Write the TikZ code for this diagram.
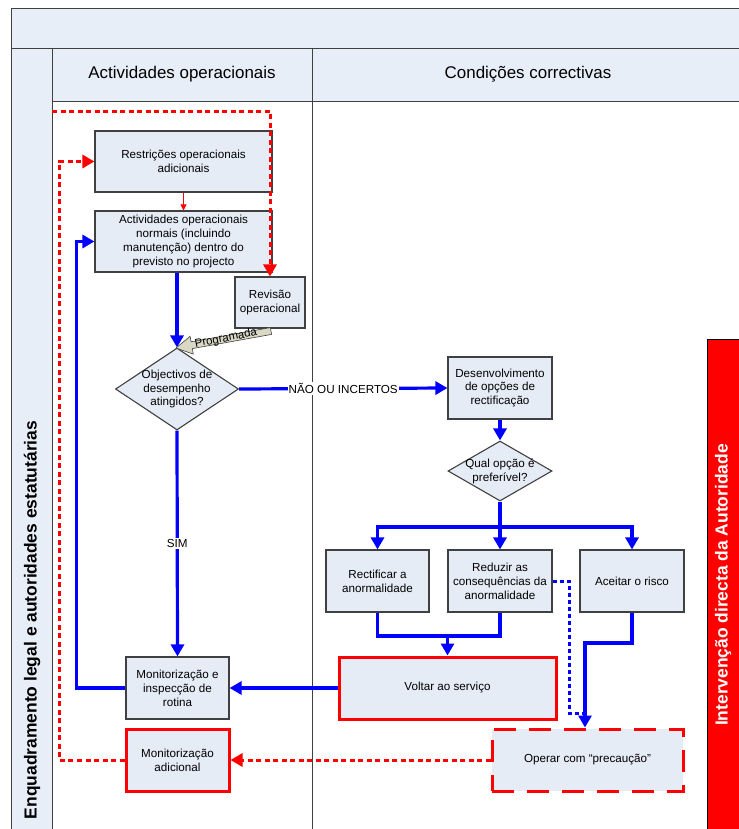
\documentclass[tikz,border=0pt]{standalone}
\usepackage{fontspec}
\setmainfont{Liberation Sans}
\usetikzlibrary{arrows.meta,shapes.geometric}
\definecolor{lanefill}{HTML}{E8EEF7}
\definecolor{boxfill}{HTML}{E6ECF6}
\definecolor{edgegray}{HTML}{404040}
\definecolor{calloutfill}{HTML}{D8D8C4}
\newcommand{\boxtextfont}{\fontsize{11.7}{14}\selectfont}
\newcommand{\headtextfont}{\fontsize{17}{20}\selectfont}
\newcommand{\lanetextfont}{\fontsize{17.5}{20}\selectfont\bfseries}
\begin{document}
\begin{tikzpicture}[x=1bp,y=-1bp,
  box/.style={draw=edgegray, line width=1.1bp, fill=boxfill, align=center,
    font=\boxtextfont, inner sep=2bp},
  redbox/.style={box, draw=red, line width=3bp},
  dashbox/.style={box, draw=red, line width=3bp, dash pattern=on 22bp off 13bp},
  dia/.style={diamond, draw=edgegray, line width=1.1bp, fill=boxfill, inner sep=0pt},
  diatext/.style={align=center, font=\boxtextfont, inner sep=0pt},
  flow/.style={draw=blue, line width=3.2bp, -{Triangle[length=12bp,width=13bp]}},
  flowline/.style={draw=blue, line width=3.2bp},
  dotflow/.style={draw=blue, line width=3bp, dash pattern=on 4bp off 3bp},
  redflow/.style={draw=red, line width=3bp, dash pattern=on 5bp off 3.5bp,
    -{Triangle[length=12bp,width=13bp]}},
  thinred/.style={draw=red, line width=1bp, -{Triangle[length=6bp,width=6bp]}},
  laneline/.style={draw=edgegray, line width=1bp},
  flowlabel/.style={fill=white, inner sep=1pt, font=\boxtextfont}
]
\useasboundingbox (0,0) rectangle (739,829);
\fill[white] (0,0) rectangle (739,829);

% swimlane frame
\fill[lanefill] (11,8) rectangle (739,48);
\fill[lanefill] (11,48) rectangle (52,829);
\fill[lanefill] (52,48) rectangle (739,101);
\draw[laneline] (11,829) -- (11,8) -- (739,8);
\draw[laneline] (11,48) -- (739,48);
\draw[laneline] (52,48) -- (52,829);
\draw[laneline] (52,101) -- (739,101);
\draw[laneline] (312,48) -- (312,829);

\node[font=\headtextfont] (head1) at (182,74) {Actividades operacionais};
\node[font=\headtextfont] (head2) at (528,74) {Condições correctivas};
\node[font=\lanetextfont, rotate=90] (lane) at (32,620)
  {Enquadramento legal e autoridades estatutárias};

% authority band
\fill[red] (707,339) rectangle (739,829);
\draw[black, line width=0.8bp] (707,829) -- (707,339) -- (739,339);
\node[font=\lanetextfont, text=white, rotate=90] (auth) at (723,585)
  {Intervenção directa da Autoridade};

% process steps
\node[box, minimum width=177bp, minimum height=61bp] (restr) at (183.5,161.5)
  {Restrições operacionais\\adicionais};
\node[box, minimum width=177bp, minimum height=61bp] (actnorm) at (183.5,241.5)
  {Actividades operacionais\\normais (incluindo\\manutenção) dentro do\\previsto no projecto};
\node[box, minimum width=70bp, minimum height=51bp] (revisao) at (270,302.5)
  {Revisão\\operacional};
\node[dia, minimum width=123bp, minimum height=82bp] (obj) at (177,389) {};
\node[diatext] (objtext) at (obj) {Objectivos de\\desempenho\\atingidos?};
\node[box, minimum width=104bp, minimum height=62bp] (desenv) at (500,388)
  {Desenvolvimento\\de opções de\\rectificação};
\node[dia, minimum width=104bp, minimum height=60bp] (qual) at (500,471) {};
\node[diatext] (qualtext) at (qual) {Qual opção é\\preferível?};
\node[box, minimum width=103bp, minimum height=62bp] (rect) at (377.5,581)
  {Rectificar a\\anormalidade};
\node[box, minimum width=104bp, minimum height=62bp] (reduz) at (500,581)
  {Reduzir as\\consequências da\\anormalidade};
\node[box, minimum width=104bp, minimum height=62bp] (aceitar) at (632,581)
  {Aceitar o risco};
\node[box, minimum width=103bp, minimum height=62bp] (monit) at (177.5,688)
  {Monitorização e\\inspecção de\\rotina};
\node[redbox, minimum width=217bp, minimum height=62bp] (voltar) at (447.5,688)
  {Voltar ao serviço};
\node[redbox, minimum width=103bp, minimum height=62bp] (monad) at (177.5,760)
  {Monitorização\\adicional};
\node[dashbox, minimum width=191bp, minimum height=62bp] (operar) at (587.5,760)
  {Operar com “precaução”};

% red (authority) links
\coordinate (legalin) at (52,111);
\draw[redflow] (legalin) -- (revisao.north |- legalin) -- (revisao.north);
\draw[redflow] (monad.west) -- ++(-65,0) |- (restr.west);
\draw[thinred] (restr.south) -- (actnorm.north);
\draw[redflow] (operar.west) -- (monad.east);

% blue flow
\draw[flow] (obj.north |- actnorm.south) -- (obj.north);
\draw[flow] (obj.east) -- node[flowlabel] {NÃO OU INCERTOS} (desenv.west);
\draw[flow] (obj.south) -- node[flowlabel] {SIM} (monit.north);
\draw[flow] (desenv.south) -- (qual.north);
\coordinate (split) at (500,527);
\draw[flowline] (qual.south) -- (split);
\draw[flow] (split) -| (rect.north);
\draw[flow] (split) -| (aceitar.north);
\draw[flow] (split) -- (reduz.north);
\coordinate (join) at (447.5,636);
\draw[flowline] (rect.south) |- (join) -| (reduz.south);
\draw[flow] (join) -- (voltar.north);
\coordinate (riskbend) at (632,643);
\draw[flow] (aceitar.south) -- (riskbend) -| ([xshift=-2.5bp]operar.north);
\draw[dotflow] (reduz.east) -- (569,581) -- (569,713) -- (585,713);
\draw[flow] (voltar.west) -- (monit.east);
\draw[flow] (monit.west) -- ++(-49,0) |- (actnorm.west);

% scheduled review callout
\filldraw[fill=calloutfill, draw=edgegray, line width=0.6bp]
  (271.6,334.4) -- (192.3,348.6) -- (193.3,354.1) -- (176,348)
  -- (190.1,336.3) -- (191.1,341.8) -- (270.4,327.6) -- cycle;
\node[font=\fontsize{11.5}{13}\selectfont, rotate=11, inner sep=0pt] (prog) at (226,338.5)
  {Programada};
\end{tikzpicture}
\end{document}
